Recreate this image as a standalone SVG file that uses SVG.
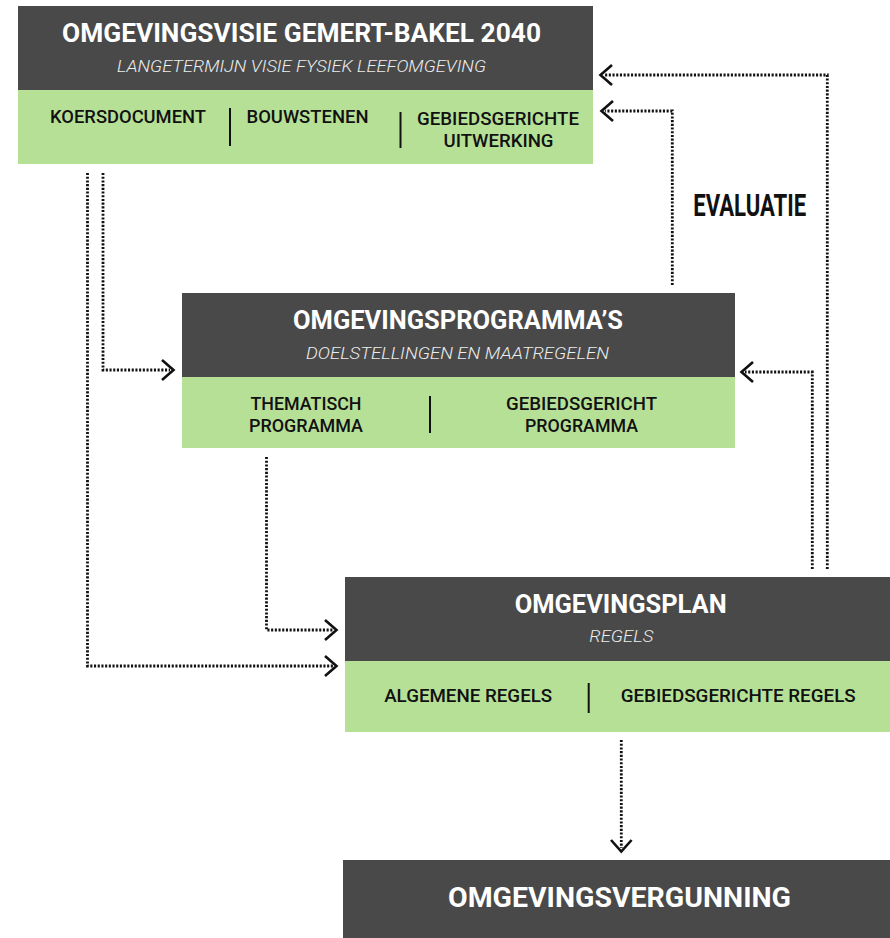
<svg xmlns="http://www.w3.org/2000/svg" width="890" height="938" viewBox="0 0 890 938">
<style>
.dark{fill:#494949}
.green{fill:#b7e097}
.t{font-family:Roboto,"Liberation Sans",sans-serif;font-weight:700;fill:#ffffff;text-anchor:middle}
.s{font-family:Roboto,"Liberation Sans",sans-serif;font-weight:300;font-style:italic;fill:#ededed;text-anchor:middle;font-size:17px}
.g{font-family:Roboto,"Liberation Sans",sans-serif;font-weight:500;fill:#111111;text-anchor:middle;font-size:18px}
.sep{stroke:#111111;stroke-width:2}
.dot{fill:none;stroke:#111111;stroke-width:2.8;stroke-dasharray:2.1 1.6}
.head{fill:none;stroke:#111111;stroke-width:2.6;stroke-linecap:butt;stroke-linejoin:miter}
.ev{font-family:Roboto,"Liberation Sans",sans-serif;font-weight:700;fill:#111111;text-anchor:middle;font-size:31px}
</style>
<g id="omgevingsvisie">
<rect class="dark" x="18" y="6" width="575" height="84"/>
<rect class="green" x="18" y="90" width="575" height="74"/>
<text class="t" x="301.5" y="42" font-size="25" textLength="479" lengthAdjust="spacingAndGlyphs">OMGEVINGSVISIE GEMERT-BAKEL 2040</text>
<text class="s" x="301.5" y="72" textLength="369" lengthAdjust="spacingAndGlyphs">LANGETERMIJN VISIE FYSIEK LEEFOMGEVING</text>
<text class="g" x="128" y="123" textLength="156" lengthAdjust="spacingAndGlyphs">KOERSDOCUMENT</text>
<line class="sep" x1="230" y1="108" x2="230" y2="146"/>
<text class="g" x="307.5" y="123" textLength="122" lengthAdjust="spacingAndGlyphs">BOUWSTENEN</text>
<line class="sep" x1="400.5" y1="112" x2="400.5" y2="148"/>
<text class="g" x="498" y="125" textLength="162" lengthAdjust="spacingAndGlyphs">GEBIEDSGERICHTE</text>
<text class="g" x="498.5" y="147" textLength="110" lengthAdjust="spacingAndGlyphs">UITWERKING</text>
</g>
<g id="omgevingsprogrammas">
<rect class="dark" x="182" y="293" width="553" height="84"/>
<rect class="green" x="182" y="377" width="553" height="71"/>
<text class="t" x="458" y="328.5" font-size="25" textLength="330" lengthAdjust="spacingAndGlyphs">OMGEVINGSPROGRAMMA’S</text>
<text class="s" x="457.5" y="359" textLength="303" lengthAdjust="spacingAndGlyphs">DOELSTELLINGEN EN MAATREGELEN</text>
<text class="g" x="306" y="410" textLength="111" lengthAdjust="spacingAndGlyphs">THEMATISCH</text>
<text class="g" x="306" y="432" textLength="114" lengthAdjust="spacingAndGlyphs">PROGRAMMA</text>
<line class="sep" x1="430" y1="396" x2="430" y2="433"/>
<text class="g" x="581.5" y="410" textLength="151" lengthAdjust="spacingAndGlyphs">GEBIEDSGERICHT</text>
<text class="g" x="581.5" y="432" textLength="113" lengthAdjust="spacingAndGlyphs">PROGRAMMA</text>
</g>
<g id="omgevingsplan">
<rect class="dark" x="345" y="577" width="545" height="84"/>
<rect class="green" x="345" y="661" width="545" height="71"/>
<text class="t" x="620.7" y="612.7" font-size="25" textLength="212" lengthAdjust="spacingAndGlyphs">OMGEVINGSPLAN</text>
<text class="s" x="621.3" y="642" textLength="64" lengthAdjust="spacingAndGlyphs">REGELS</text>
<text class="g" x="468.2" y="702" textLength="168" lengthAdjust="spacingAndGlyphs">ALGEMENE REGELS</text>
<line class="sep" x1="588.7" y1="683" x2="588.7" y2="713"/>
<text class="g" x="738.2" y="702" textLength="235" lengthAdjust="spacingAndGlyphs">GEBIEDSGERICHTE REGELS</text>
</g>
<g id="omgevingsvergunning">
<rect class="dark" x="343" y="860" width="547" height="78"/>
<text class="t" x="619.5" y="907" font-size="27" textLength="343" lengthAdjust="spacingAndGlyphs">OMGEVINGSVERGUNNING</text>
</g>
<g id="evaluatie-label">
<text class="ev" x="749.7" y="216" textLength="113" lengthAdjust="spacingAndGlyphs">EVALUATIE</text>
</g>
<g id="connectors">
<polyline class="dot" points="87.5,173 87.5,666 333,666"/>
<polyline class="head" points="325,656 336.5,666 325,676"/>
<polyline class="dot" points="103,173 103,370 170,370"/>
<polyline class="head" points="162,360 173.5,370 162,380"/>
<polyline class="dot" points="266.5,457 266.5,630 333,630"/>
<polyline class="head" points="325,620 336.5,630 325,640"/>
<polyline class="dot" points="812.3,569 812.3,372 745,372"/>
<polyline class="head" points="753,362 741.5,372 753,382"/>
<polyline class="dot" points="827.3,569 827.3,75 604,75"/>
<polyline class="head" points="612,65 600.5,75 612,85"/>
<polyline class="dot" points="672.3,285 672.3,111 605,111"/>
<polyline class="head" points="613,101 601.5,111 613,121"/>
<polyline class="dot" points="621.3,740 621.3,848"/>
<polyline class="head" points="611,840 621.3,851.5 631.6,840"/>
</g>
</svg>
